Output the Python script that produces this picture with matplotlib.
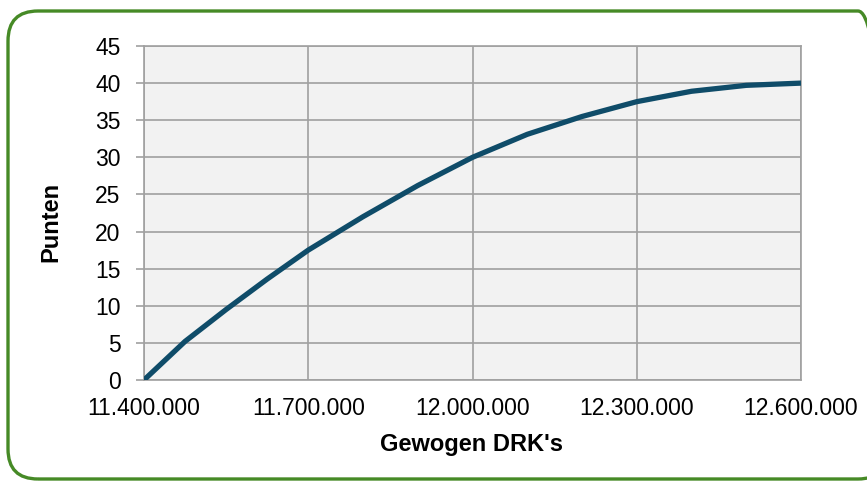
import matplotlib
matplotlib.use('Agg')
from matplotlib import pyplot as plt
from matplotlib.patches import FancyBboxPatch
from matplotlib.ticker import FuncFormatter

drk = [11400000, 11475000, 11550000, 11625000, 11700000, 11800000, 11900000,
       12000000, 12100000, 12200000, 12300000, 12400000, 12500000, 12600000]
punten = [0, 5.2, 9.5, 13.6, 17.5, 22.0, 26.2, 30, 33.1, 35.5, 37.5, 38.9, 39.7, 40]

xticks = [11400000, 11700000, 12000000, 12300000, 12600000]
yticks = list(range(0, 50, 5))

plt.rcParams['font.family'] = ['Liberation Sans', 'DejaVu Sans']

W, H = 867, 482
fig = plt.figure(figsize=(W / 100, H / 100), dpi=100)
# groene rand, rechterkant valt buiten beeld
frame = FancyBboxPatch((8 / W, 3 / H), 880 / W, 468 / H,
                       boxstyle='round,pad=0,rounding_size=%f' % (30 / W),
                       mutation_aspect=W / H,
                       transform=fig.transFigure, facecolor='none',
                       edgecolor='#468a26', linewidth=2.4, zorder=5)
fig.patches.append(frame)

ax = fig.add_axes([144 / W, 1 - 380 / H, 657 / W, 334 / H])
ax.set_facecolor('#f2f2f2')
ax.plot(drk, punten, color='#0f4c69', linewidth=3.8, solid_capstyle='butt',
        solid_joinstyle='round', zorder=3)

ax.set_xlim(11400000, 12600000)
ax.set_ylim(0, 45)
ax.set_xticks(xticks)
ax.set_yticks(yticks)
ax.xaxis.set_major_formatter(FuncFormatter(lambda v, p: f'{int(v):,}'.replace(',', '.')))
ax.grid(True, color='#a0a0a0', linewidth=1.2)
ax.set_axisbelow(True)
for s in ax.spines.values():
    s.set_color('#a0a0a0')
    s.set_linewidth(1.2)
ax.tick_params(axis='y', length=6, width=1.2, color='#a0a0a0', labelsize=16.5, pad=11)
ax.tick_params(axis='x', length=0, labelsize=16.5, pad=12)

fig.text(471 / W, 1 - 444 / H, "Gewogen DRK's", fontsize=17, fontweight='bold',
         ha='center', va='center')
fig.text(51 / W, 1 - 222 / H, 'Punten', fontsize=17, fontweight='bold',
         rotation=90, ha='center', va='center')

fig.savefig('out.png', dpi=100)
